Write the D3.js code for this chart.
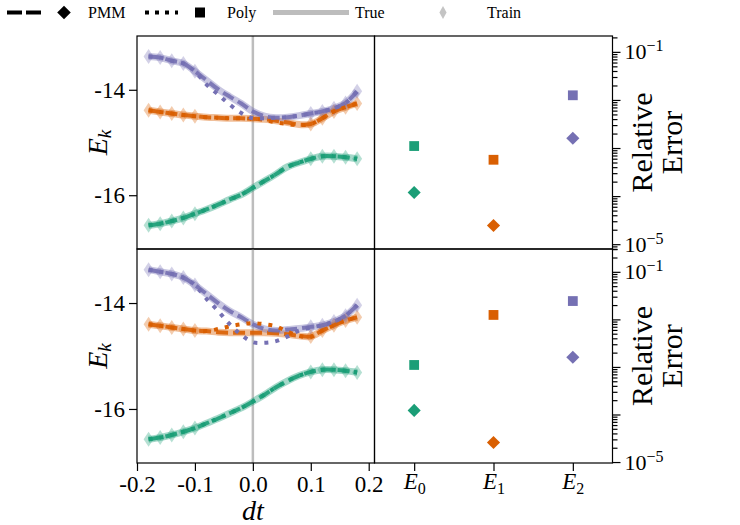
<!DOCTYPE html>
<html>
<head>
<meta charset="utf-8">
<script src="https://cdn.jsdelivr.net/npm/d3@7"></script>
<style>
  body { margin: 0; background: #fff; }
  text { font-family: "Liberation Serif", "DejaVu Serif", serif; fill: #000; }
</style>
</head>
<body>
<svg id="chart" width="740" height="525"></svg>
<script>
// ---- data ----
const dt = [-0.18, -0.16, -0.14, -0.12, -0.10, -0.08, -0.06, -0.04, -0.02, 0.0,
            0.02, 0.04, 0.06, 0.08, 0.10, 0.12, 0.14, 0.16, 0.18];
const energies = ["E0", "E1", "E2"];
const colors = ["#1b9e77", "#d95f02", "#7570b3"];

// top row: E0, E1, E2 vs dt
const topTrue = [
  [-16.57, -16.54, -16.49, -16.43, -16.35, -16.27, -16.18, -16.08, -15.99, -15.86, -15.73, -15.60, -15.46, -15.38, -15.31, -15.26, -15.26, -15.28, -15.31],
  [-14.39, -14.42, -14.45, -14.48, -14.50, -14.52, -14.53, -14.54, -14.54, -14.55, -14.56, -14.59, -14.62, -14.66, -14.65, -14.54, -14.41, -14.33, -14.26],
  [-13.37, -13.39, -13.45, -13.50, -13.65, -13.82, -13.99, -14.13, -14.26, -14.41, -14.50, -14.53, -14.52, -14.49, -14.45, -14.41, -14.35, -14.25, -14.03]
];
const topPMM = [
  [-16.57, -16.54, -16.49, -16.43, -16.35, -16.27, -16.18, -16.08, -15.99, -15.86, -15.73, -15.60, -15.46, -15.38, -15.31, -15.26, -15.26, -15.28, -15.31],
  [-14.39, -14.42, -14.45, -14.48, -14.50, -14.52, -14.53, -14.54, -14.54, -14.55, -14.56, -14.59, -14.62, -14.66, -14.65, -14.54, -14.41, -14.33, -14.26],
  [-13.37, -13.39, -13.45, -13.50, -13.65, -13.82, -13.99, -14.13, -14.26, -14.41, -14.50, -14.53, -14.52, -14.49, -14.45, -14.41, -14.35, -14.25, -14.03]
];
const topPoly = [
  [-16.57, -16.54, -16.49, -16.43, -16.35, -16.27, -16.18, -16.08, -15.99, -15.86, -15.73, -15.60, -15.46, -15.38, -15.31, -15.26, -15.26, -15.28, -15.31],
  [-14.39, -14.42, -14.45, -14.48, -14.50, -14.52, -14.53, -14.54, -14.54, -14.55, -14.57, -14.62, -14.65, -14.67, -14.65, -14.54, -14.41, -14.33, -14.26],
  [-13.37, -13.39, -13.45, -13.50, -13.65, -13.90, -14.09, -14.28, -14.44, -14.54, -14.54, -14.53, -14.52, -14.49, -14.45, -14.41, -14.35, -14.25, -14.03]
];

// bottom row
const bottomTrue = [
  [-16.57, -16.54, -16.49, -16.43, -16.36, -16.27, -16.18, -16.08, -15.98, -15.86, -15.73, -15.59, -15.47, -15.37, -15.30, -15.26, -15.26, -15.28, -15.31],
  [-14.40, -14.43, -14.46, -14.49, -14.52, -14.53, -14.55, -14.56, -14.56, -14.56, -14.56, -14.57, -14.59, -14.62, -14.63, -14.52, -14.42, -14.33, -14.27],
  [-13.37, -13.41, -13.45, -13.52, -13.66, -13.83, -14.00, -14.15, -14.27, -14.40, -14.49, -14.52, -14.50, -14.48, -14.45, -14.42, -14.35, -14.24, -14.04]
];
const bottomPMM = [
  [-16.57, -16.54, -16.49, -16.43, -16.36, -16.27, -16.18, -16.08, -15.98, -15.86, -15.73, -15.59, -15.47, -15.37, -15.30, -15.26, -15.26, -15.28, -15.31],
  [-14.40, -14.43, -14.46, -14.49, -14.52, -14.53, -14.55, -14.56, -14.56, -14.56, -14.56, -14.57, -14.59, -14.62, -14.63, -14.52, -14.42, -14.33, -14.27],
  [-13.37, -13.41, -13.45, -13.52, -13.66, -13.83, -14.00, -14.15, -14.27, -14.40, -14.49, -14.52, -14.50, -14.48, -14.45, -14.42, -14.35, -14.24, -14.04]
];
const bottomPoly = [
  [-16.57, -16.54, -16.49, -16.43, -16.36, -16.27, -16.18, -16.08, -15.98, -15.86, -15.73, -15.59, -15.47, -15.37, -15.30, -15.26, -15.26, -15.28, -15.31],
  [-14.40, -14.43, -14.46, -14.49, -14.52, -14.53, -14.49, -14.44, -14.40, -14.38, -14.40, -14.44, -14.54, -14.62, -14.64, -14.52, -14.42, -14.33, -14.27],
  [-13.37, -13.41, -13.45, -13.52, -13.66, -13.92, -14.15, -14.40, -14.60, -14.74, -14.75, -14.72, -14.63, -14.52, -14.46, -14.42, -14.35, -14.24, -14.04]
];

// relative errors (log axis), per energy level
const topErrPoly = [1.1e-3, 5.7e-4, 1.25e-2];
const topErrPMM = [1.19e-4, 2.45e-5, 1.6e-3];
const bottomErrPoly = [1.1e-3, 1.24e-2, 2.43e-2];
const bottomErrPMM = [1.22e-4, 2.57e-5, 1.6e-3];

const energyTicks = [-14, -16];
const dtTicks = [-0.2, -0.1, 0.0, 0.1, 0.2];
const decades = [1e-1, 1e-2, 1e-3, 1e-4, 1e-5];
const logLabels = [1e-1, 1e-5];

// ---- layout ----
const svg = d3.select("#chart");
const xL = [137, 374.5], xR = [374.5, 612.5];
const x = d3.scaleLinear().domain([-0.2, 0.21]).range(xL);
const xe = d3.scalePoint().domain(energies).range(xR).padding(0.5);
const isTrain = d => Math.abs(d) > 0.099;

const panels = [
  { truth: topTrue, pmm: topPMM, poly: topPoly, errPoly: topErrPoly, errPMM: topErrPMM,
    y0: 36, y1: 249, logDomain: [Math.pow(10, -5.1), Math.pow(10, -0.67)], bottom: false },
  { truth: bottomTrue, pmm: bottomPMM, poly: bottomPoly, errPoly: bottomErrPoly, errPMM: bottomErrPMM,
    y0: 249, y1: 463, logDomain: [Math.pow(10, -5.02), Math.pow(10, -0.52)], bottom: true }
];

// thin diamond like matplotlib's 'd'
const thinDiamond = (hw, hh) => `M0,${-hh}L${hw},0L0,${hh}L${-hw},0Z`;
const square = d3.symbol().type(d3.symbolSquare);

function styleAxis(g, size) {
  g.attr("font-family", "Liberation Serif, DejaVu Serif, serif").attr("font-size", size);
  g.select(".domain").remove();
  g.selectAll(".tick line").attr("stroke", "#000").attr("stroke-width", 1.2);
  g.selectAll(".tick text").attr("fill", "#000");
}

panels.forEach(p => {
  const y = d3.scaleLinear().domain([-17.02, -12.98]).range([p.y1, p.y0]);
  const yl = d3.scaleLog().domain(p.logDomain).range([p.y1, p.y0]);
  const g = svg.append("g");

  // vertical reference at dt = 0
  g.append("line")
    .attr("x1", x(0)).attr("x2", x(0)).attr("y1", p.y0).attr("y2", p.y1)
    .attr("stroke", "#bdbdbd").attr("stroke-width", 2.5);

  const line = d3.line()
    .x((d, i) => x(dt[i]))
    .y(d => y(d))
    .curve(d3.curveCatmullRom);

  // true curves (thick, light)
  p.truth.forEach((vals, k) => {
    g.append("path").attr("d", line(vals))
      .attr("fill", "none").attr("stroke", colors[k])
      .attr("stroke-width", 7).attr("stroke-opacity", 0.4);
  });

  // training points
  p.truth.forEach((vals, k) => {
    g.selectAll(null)
      .data(dt.map((d, i) => [d, vals[i]]).filter(d => isTrain(d[0])))
      .join("path")
      .attr("d", thinDiamond(5, 7.5))
      .attr("transform", d => `translate(${x(d[0])},${y(d[1])})`)
      .attr("fill", colors[k]).attr("fill-opacity", 0.32);
  });

  // PMM dashed
  p.pmm.forEach((vals, k) => {
    g.append("path").attr("d", line(vals))
      .attr("fill", "none").attr("stroke", colors[k])
      .attr("stroke-width", 4).attr("stroke-dasharray", "12,5")
      .attr("stroke-opacity", 0.9);
  });

  // Poly dotted
  p.poly.forEach((vals, k) => {
    g.append("path").attr("d", line(vals))
      .attr("fill", "none").attr("stroke", colors[k])
      .attr("stroke-width", 4).attr("stroke-dasharray", "4,7");
  });

  // relative errors
  g.selectAll(null).data(p.errPoly).join("path")
    .attr("d", square.size(96))
    .attr("transform", (d, i) => `translate(${xe(energies[i])},${yl(d)})`)
    .attr("fill", (d, i) => colors[i]);
  g.selectAll(null).data(p.errPMM).join("path")
    .attr("d", square.size(86))
    .attr("transform", (d, i) => `translate(${xe(energies[i])},${yl(d)}) rotate(45)`)
    .attr("fill", (d, i) => colors[i]);

  // frames
  [xL, xR].forEach(r => {
    svg.append("rect")
      .attr("x", r[0]).attr("y", p.y0).attr("width", r[1] - r[0]).attr("height", p.y1 - p.y0)
      .attr("fill", "none").attr("stroke", "#000").attr("stroke-width", 1.2);
  });

  // left axis
  const gy = svg.append("g").attr("transform", `translate(${xL[0]},0)`)
    .call(d3.axisLeft(y).tickValues(energyTicks).tickSize(8).tickPadding(4).tickFormat(d => String(d)));
  styleAxis(gy, 23);

  // right log axis: minor then major
  const minors = yl.ticks().filter(v => !decades.some(dv => Math.abs(v / dv - 1) < 1e-6));
  const gm = svg.append("g").attr("transform", `translate(${xR[1]},0)`)
    .call(d3.axisRight(yl).tickValues(minors).tickSize(5).tickFormat(() => ""));
  styleAxis(gm, 22);
  const gr = svg.append("g").attr("transform", `translate(${xR[1]},0)`)
    .call(d3.axisRight(yl).tickValues(decades).tickSize(8).tickPadding(4).tickFormat(() => ""));
  styleAxis(gr, 22);
  gr.selectAll(".tick text").each(function(d) {
    if (!logLabels.includes(d)) return;
    const t = d3.select(this);
    t.append("tspan").text("10");
    t.append("tspan").attr("dy", "-0.5em").attr("font-size", 16)
      .text("\u2212" + Math.round(-Math.log10(d)));
  });

  // y labels
  const cy = (p.y0 + p.y1) / 2;
  const ek = svg.append("text")
    .attr("transform", `translate(107,${cy}) rotate(-90)`)
    .attr("text-anchor", "middle").attr("font-size", 28);
  ek.append("tspan").attr("font-style", "italic").text("E");
  ek.append("tspan").attr("font-style", "italic").attr("font-size", 19).attr("dy", "0.22em").text("k");

  svg.append("text")
    .attr("transform", `translate(652,${cy}) rotate(-90)`)
    .attr("text-anchor", "middle").attr("font-size", 30).text("Relative");
  svg.append("text")
    .attr("transform", `translate(682,${cy}) rotate(-90)`)
    .attr("text-anchor", "middle").attr("font-size", 30).text("Error");

  if (p.bottom) {
    const gx = svg.append("g").attr("transform", `translate(0,${p.y1})`)
      .call(d3.axisBottom(x).tickValues(dtTicks).tickSize(8).tickPadding(5).tickFormat(d => d.toFixed(1)));
    styleAxis(gx, 23);

    const ge = svg.append("g").attr("transform", `translate(0,${p.y1})`)
      .call(d3.axisBottom(xe).tickSize(8).tickPadding(2).tickFormat(() => ""));
    styleAxis(ge, 23);
    ge.selectAll(".tick text").each(function(d) {
      const t = d3.select(this);
      t.append("tspan").attr("font-style", "italic").text("E");
      t.append("tspan").attr("font-size", 16).attr("dy", "0.3em").text(d.slice(1));
    });

    svg.append("text").attr("x", x(0)).attr("y", 520)
      .attr("text-anchor", "middle").attr("font-size", 28).attr("font-style", "italic").text("dt");
  }
});

// ---- legend ----
const leg = svg.append("g");
const ly = 12.5;
leg.append("line").attr("x1", 7).attr("x2", 41).attr("y1", ly).attr("y2", ly)
  .attr("stroke", "#000").attr("stroke-width", 4).attr("stroke-dasharray", "15,4");
leg.append("path").attr("d", square.size(92)).attr("transform", `translate(64,${ly}) rotate(45)`);
leg.append("text").attr("x", 88).attr("y", 17.5).attr("font-size", 16).text("PMM");

leg.append("line").attr("x1", 145).attr("x2", 178).attr("y1", ly).attr("y2", ly)
  .attr("stroke", "#000").attr("stroke-width", 4).attr("stroke-dasharray", "4,6");
leg.append("path").attr("d", square.size(100)).attr("transform", `translate(200,${ly})`);
leg.append("text").attr("x", 227).attr("y", 17.5).attr("font-size", 16).text("Poly");

leg.append("line").attr("x1", 273).attr("x2", 349).attr("y1", ly).attr("y2", ly)
  .attr("stroke", "#bdbdbd").attr("stroke-width", 5);
leg.append("text").attr("x", 355).attr("y", 17.5).attr("font-size", 16).text("True");

leg.append("path").attr("d", thinDiamond(3.6, 6.5)).attr("transform", `translate(443,${ly})`)
  .attr("fill", "#c4c4c4");
leg.append("text").attr("x", 487).attr("y", 17.5).attr("font-size", 16).text("Train");
</script>
</body>
</html>
